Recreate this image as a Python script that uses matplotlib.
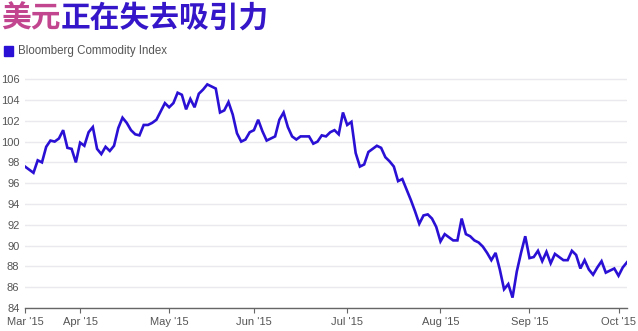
#!/usr/bin/env python3
"""Bloomberg Commodity Index, Mar-Oct 2015, drawn on a trading-day axis."""

import matplotlib

matplotlib.use("Agg")

import matplotlib.pyplot as plt
import pandas as pd
from matplotlib.patches import Rectangle

# ---------------------------------------------------------------------------
# Data
# ---------------------------------------------------------------------------

TITLE_HIGHLIGHT = "美元"
TITLE_REST = "正在失去吸引力"
SERIES_NAME = "Bloomberg Commodity Index"

START_DATE = "2015-03-13"
END_DATE = "2015-10-05"
HOLIDAYS = ["2015-04-03", "2015-05-25", "2015-07-03", "2015-09-07"]

index_values = [
    97.6, 97.3, 97.0, 98.2, 98.0, 99.5, 100.1, 100.0, 100.3, 101.1,
    99.4, 99.3, 98.0, 99.9, 99.6, 100.9, 101.4, 99.3, 98.8, 99.5,
    99.1, 99.6, 101.3, 102.3, 101.8, 101.1, 100.7, 100.6, 101.6, 101.6,
    101.8, 102.1, 102.9, 103.7, 103.3, 103.7, 104.7, 104.5, 103.1, 104.1,
    103.3, 104.6, 105.0, 105.5, 105.3, 105.1, 102.8, 103.0, 103.8, 102.6,
    100.8, 100.0, 100.2, 100.9, 101.1, 102.1, 101.0, 100.1, 100.3, 100.5,
    102.1, 102.8, 101.4, 100.5, 100.2, 100.5, 100.5, 100.5, 99.8, 100.0,
    100.6, 100.5, 100.9, 101.1, 100.7, 102.8, 101.6, 101.9, 98.9, 97.6,
    97.8, 99.0, 99.3, 99.6, 99.4, 98.5, 98.1, 97.6, 96.2, 96.4,
    95.4, 94.4, 93.3, 92.1, 92.9, 93.0, 92.6, 91.8, 90.4, 91.1,
    90.8, 90.5, 90.5, 92.6, 91.1, 90.9, 90.5, 90.3, 89.9, 89.3,
    88.6, 89.3, 87.7, 85.8, 86.3, 85.0, 87.5, 89.3, 90.9, 88.8,
    88.9, 89.5, 88.5, 89.4, 88.3, 89.2, 88.9, 88.6, 88.6, 89.5,
    89.1, 87.8, 88.6, 87.7, 87.2, 87.9, 88.5, 87.4, 87.6, 87.8,
    87.1, 87.9, 88.4,
]

tick_dates = ["2015-03-13", "2015-04-01", "2015-05-01", "2015-06-01",
              "2015-07-01", "2015-08-03", "2015-09-01", "2015-10-01"]
tick_labels = ["Mar '15", "Apr '15", "May '15", "Jun '15",
               "Jul '15", "Aug '15", "Sep '15", "Oct '15"]
y_ticks = [84, 86, 88, 90, 92, 94, 96, 98, 100, 102, 104, 106]

# ---------------------------------------------------------------------------
# Style
# ---------------------------------------------------------------------------

LINE_COLOR = "#2a10d4"
TITLE_PINK = "#c2458f"
TITLE_BLUE = "#3516c8"
TEXT_GRAY = "#555555"
GRID_COLOR = "#e9e9ee"

W, H, DPI = 638, 331, 100
LATIN = ["Liberation Sans", "DejaVu Sans"]
CJK = ["Noto Sans CJK SC", "DejaVu Sans"]


def px(x, y):
    """Pixel position (from top-left) to figure fraction."""
    return x / W, 1 - y / H


def main():
    plt.rcParams["font.family"] = LATIN

    dates = pd.bdate_range(START_DATE, END_DATE, freq="C", holidays=HOLIDAYS)
    series = pd.Series(index_values, index=dates[: len(index_values)])
    pos = range(len(series))
    tick_pos = [series.index.get_indexer([pd.Timestamp(d)], method="bfill")[0]
                for d in tick_dates]

    fig = plt.figure(figsize=(W / DPI, H / DPI), dpi=DPI)
    left, bottom = px(25, 308)
    right, top = px(627, 74)
    ax = fig.add_axes([left, bottom, right - left, top - bottom])

    ax.plot(pos, series.values, color=LINE_COLOR, lw=1.9,
            solid_joinstyle="miter", zorder=3)

    ax.set_xlim(0, len(series) - 1)
    ax.set_ylim(84, 106.5)
    ax.set_yticks(y_ticks)
    ax.set_yticklabels([str(v) for v in y_ticks])
    ax.set_xticks(tick_pos)
    ax.set_xticklabels(tick_labels)

    ax.grid(axis="y", color=GRID_COLOR, lw=1.0)
    ax.set_axisbelow(True)
    for side in ("top", "right", "left"):
        ax.spines[side].set_visible(False)
    ax.spines["bottom"].set_color("#666666")
    ax.spines["bottom"].set_linewidth(1.0)

    ax.tick_params(axis="y", length=0, pad=4, labelsize=8, labelcolor=TEXT_GRAY)
    ax.tick_params(axis="x", length=3.5, width=0.8, color="#666666",
                   pad=3, labelsize=8, labelcolor=TEXT_GRAY)

    # title: two colours, full-width CJK glyphs so offset by em
    title_size = 21.4
    em_px = title_size * DPI / 72
    fig.text(*px(1.5, 3), TITLE_HIGHLIGHT, family=CJK, weight="bold",
             fontsize=title_size, color=TITLE_PINK, va="top", ha="left")
    fig.text(*px(1.5 + 2 * em_px, 3), TITLE_REST, family=CJK, weight="bold",
             fontsize=title_size, color=TITLE_BLUE, va="top", ha="left")

    # legend
    x0, y0 = px(3.5, 56)
    fig.patches.append(Rectangle((x0, y0), 10 / W, 10 / H, color=LINE_COLOR,
                                 transform=fig.transFigure, figure=fig))
    fig.text(*px(18, 51), SERIES_NAME, fontsize=8.3, color=TEXT_GRAY,
             va="center", ha="left")

    fig.savefig("out.png", dpi=DPI)


if __name__ == "__main__":
    main()
